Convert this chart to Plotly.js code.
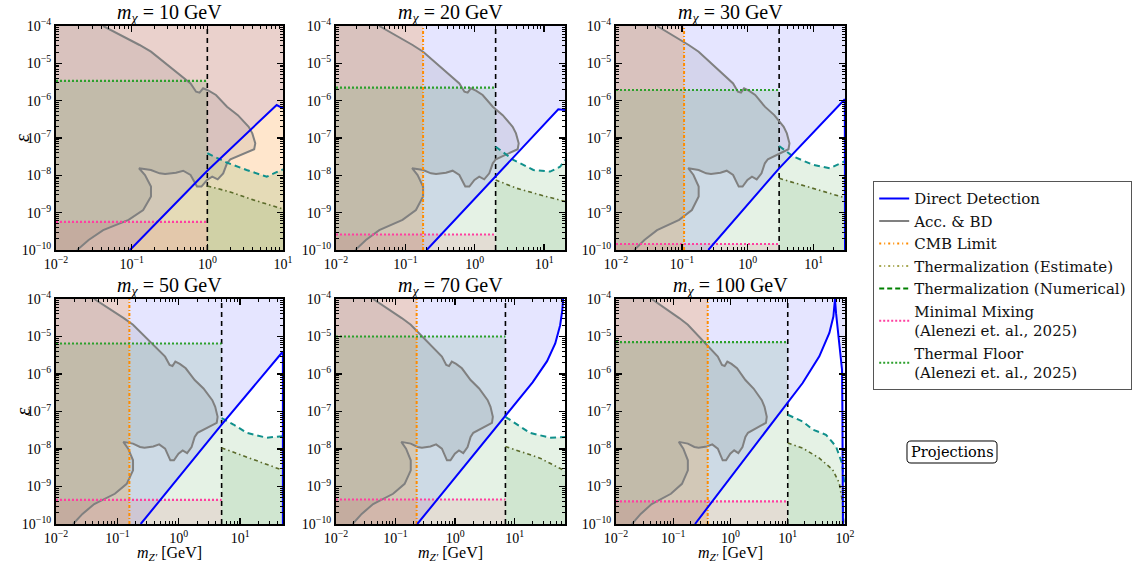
<!DOCTYPE html>
<html><head><meta charset="utf-8">
<script src="https://cdn.plot.ly/plotly-3.0.1.min.js"></script>
<style>html,body{margin:0;padding:0;background:#fff;}#chart{width:1137px;height:565px;}</style>
</head><body><div id="chart"></div>
<script>
// ---------------- DATA ----------------
const mChi = [10, 20, 30, 50, 70, 100];                 // GeV, panel titles and x upper limits
const zBoundary = [1, 2, 3, 5, 7, 10];                 // vertical dashed line (m_Z' = m_chi/10)
const cmbLimit = [10, 0.18, 0.108, 0.157, 0.226, 0.40]; // CMB limit on m_Z'
const thermalFloor = [3.4e-6, 2.23e-6, 1.93e-6, 6.5e-6, 1.0e-5, 7.1e-6];
const minimalMixing = [5.7e-10, 2.6e-10, 1.45e-10, 4.4e-10, 4.5e-10, 4.0e-10];

// Accelerator & beam dump contour (same in all panels)
const accX = [0.042, 0.073, 0.127, 0.18, 0.277, 0.43, 0.6, 0.71, 0.79, 0.88, 1.04, 1.3, 1.82, 2.53, 3.52, 3.93, 4.3, 4.16, 3.15, 2.02, 1.82, 1.62, 1.37, 1.16, 0.99, 0.836, 0.73, 0.67, 0.6, 0.48, 0.385, 0.277, 0.234, 0.18, 0.125, 0.15, 0.18, 0.18, 0.142, 0.091, 0.042, 0.027, 0.019];
const accY = [1e-4, 5.7e-5, 3.1e-5, 2.05e-5, 1e-5, 4.9e-6, 2.9e-6, 1.74e-6, 1.64e-6, 2.14e-6, 1.86e-6, 1.42e-6, 6.9e-7, 4.1e-7, 2.0e-7, 1.33e-7, 7.2e-8, 5.0e-8, 3.9e-8, 2.7e-8, 2.1e-8, 1.13e-8, 7.8e-9, 9.2e-9, 7.5e-9, 5.0e-9, 5.0e-9, 6.8e-9, 1.02e-8, 1.33e-8, 1.17e-8, 1.08e-8, 1.13e-8, 1.39e-8, 1.55e-8, 1.02e-8, 5.0e-9, 2.7e-9, 1.18e-9, 6.4e-10, 3.4e-10, 1.86e-10, 1e-10];

// Direct detection curves
const ddX = [
  [0.095, 1, 8.25, 10],
  [0.203, 2, 16, 20],
  [0.252, 3, 29.8, 30],
  [0.24, 5, 47.5, 49.8, 49.8],
  [0.232, 7, 20, 35, 48, 58, 63, 65],
  [0.24, 10, 18.2, 35.6, 53.3, 62.7, 66.8, 70, 74.5, 81.8, 88.7, 90, 91, 92]
];
const ddY = [
  [1e-10, 1.33e-8, 7.65e-7, 6.2e-7],
  [1e-10, 9.2e-9, 5.85e-7, 5.6e-7],
  [1e-10, 1.54e-8, 1.09e-6, 1e-10],
  [1e-10, 4.45e-8, 3.63e-6, 3.9e-6, 1e-10],
  [1e-10, 7.4e-8, 6e-7, 2.2e-6, 6.5e-6, 2e-5, 5e-5, 1e-4],
  [1e-10, 1.8e-7, 5.75e-7, 2.95e-6, 1.24e-5, 3.4e-5, 1e-4, 4e-5, 1.5e-5, 5.4e-6, 1.3e-6, 1e-7, 1e-9, 1e-10]
];

// Thermalization (numerical)
const thNumX = [
  [1, 1.8, 3.3, 6.1, 10],
  [2, 3.6, 7.0, 12.2, 17, 20],
  [3, 4.9, 9.9, 17.8, 30],
  [5, 7.8, 12.8, 27, 50],
  [7, 12.3, 18, 39, 70],
  [10, 18.2, 27.3, 46.5, 69.6, 88.7, 97.3]
];
const thNumY = [
  [3.9e-8, 2.2e-8, 1.39e-8, 9.2e-9, 1.45e-8],
  [5.85e-8, 2.6e-8, 1.39e-8, 1.26e-8, 1.7e-8, 2.6e-8],
  [6.1e-8, 3.2e-8, 1.9e-8, 1.55e-8, 2.4e-8],
  [6.7e-8, 4.5e-8, 2.7e-8, 2.0e-8, 2.2e-8],
  [7.2e-8, 3.9e-8, 2.7e-8, 2.0e-8, 2.1e-8],
  [8.2e-8, 5.4e-8, 3.3e-8, 2.4e-8, 1.17e-8, 4.2e-9, 1.24e-9]
];

// Thermalization (estimate)
const thEstX = [
  [1, 2.0, 4.05, 10],
  [2, 4.03, 8.7, 17, 20],
  [3, 7.9, 15.8, 30],
  [5, 9.95, 21, 50],
  [7, 12.3, 26.6, 70],
  [10, 18.2, 35.6, 61, 79.4, 91, 95]
];
const thEstY = [
  [5.2e-9, 3.6e-9, 2.2e-9, 1.25e-9],
  [7.5e-9, 4.5e-9, 3.0e-9, 2.2e-9, 2.0e-9],
  [8.3e-9, 5.0e-9, 3.4e-9, 2.5e-9],
  [1.07e-8, 7.1e-9, 4.7e-9, 2.7e-9],
  [1.17e-8, 8.7e-9, 5.7e-9, 2.6e-9],
  [1.45e-8, 1.06e-8, 5.7e-9, 2.8e-9, 1.24e-9, 3.6e-10, 1e-10]
];

const xTickVals = [0.01, 0.1, 1, 10, 100];
const xTickText = ['10<sup>−2</sup>', '10<sup>−1</sup>', '10<sup>0</sup>', '10<sup>1</sup>', '10<sup>2</sup>'];
const yTickVals = [1e-10, 1e-9, 1e-8, 1e-7, 1e-6, 1e-5, 1e-4];
const yTickText = ['10<sup>−10</sup>', '10<sup>−9</sup>', '10<sup>−8</sup>', '10<sup>−7</sup>', '10<sup>−6</sup>', '10<sup>−5</sup>', '10<sup>−4</sup>'];

// ---------------- LAYOUT HELPERS ----------------
const W = 1137, H = 565;
const colPx = [[56, 283], [336, 565], [616, 845]];
const rowPx = [[26, 250], [299, 524]];
const X0 = 0.01, Y0 = 1e-10, Y1 = 1e-4;
const FONT = 'Liberation Serif, Times New Roman, serif';
const LFONT = 'DejaVu Serif, Liberation Serif, serif';

const traces = [];
const layout = {
  width: W, height: H, autosize: false,
  margin: {l: 0, r: 0, t: 0, b: 0},
  paper_bgcolor: '#fff', plot_bgcolor: '#fff',
  font: {family: FONT, size: 13, color: '#000'},
  showlegend: true,
  legend: {
    x: 873 / W, y: 1 - 181 / H, xanchor: 'left', yanchor: 'top',
    bgcolor: '#fff', bordercolor: '#555', borderwidth: 1.2,
    font: {family: LFONT, size: 15, color: '#111'},
    itemwidth: 30, tracegroupgap: 2
  },
  annotations: [], shapes: []
};

function minorVals(lo, hi, kmin, kmax) {
  const v = [];
  for (let k = kmin; k <= kmax; k++) for (let m = 2; m <= 9; m++) {
    const t = m * Math.pow(10, k);
    if (t > lo && t < hi) v.push(t);
  }
  return v;
}

for (let i = 0; i < 6; i++) {
  const r = Math.floor(i / 3), c = i % 3;
  const s = i === 0 ? '' : String(i + 1);
  const xa = 'x' + s, ya = 'y' + s;
  const xmax = mChi[i];
  const axCommon = {
    type: 'log', showgrid: false, zeroline: false,
    showline: true, linecolor: '#000', linewidth: 2, mirror: 'allticks',
    ticks: 'inside', ticklen: 6, tickwidth: 1.3, tickcolor: '#000',
    tickfont: {family: FONT, size: 14, color: '#000'},
    tickmode: 'array'
  };
  layout['xaxis' + s] = Object.assign({}, axCommon, {
    domain: [colPx[c][0] / W, colPx[c][1] / W], anchor: ya,
    range: [Math.log10(X0), Math.log10(xmax)],
    tickvals: xTickVals.filter(v => v <= xmax * 1.0001), ticktext: xTickText.filter((t, j) => xTickVals[j] <= xmax * 1.0001),
    minor: {tickmode: 'array', tickvals: minorVals(X0, xmax, -2, 2), ticks: 'inside', ticklen: 3, tickwidth: 1, tickcolor: '#000', showgrid: false}
  });
  layout['yaxis' + s] = Object.assign({}, axCommon, {
    domain: [1 - rowPx[r][1] / H, 1 - rowPx[r][0] / H], anchor: xa,
    range: [-10, -4],
    tickvals: yTickVals, ticktext: yTickText,
    minor: {tickmode: 'array', tickvals: minorVals(Y0, Y1, -10, -5), ticks: 'inside', ticklen: 3, tickwidth: 1, tickcolor: '#000', showgrid: false}
  });

  const base = {xaxis: xa, yaxis: ya, hoverinfo: 'skip', showlegend: false, mode: 'lines'};
  const zb = zBoundary[i];
  const cmb = Math.min(cmbLimit[i], xmax);

  // --- fills ---
  traces.push(Object.assign({}, base, {
    x: [X0].concat(ddX[i], [xmax, X0]),
    y: [Y0].concat(ddY[i], [Y1, Y1]),
    fill: 'toself', fillcolor: 'rgba(0,0,255,0.10)', line: {width: 0}
  }));
  traces.push(Object.assign({}, base, {
    x: [X0, cmb, cmb, X0], y: [Y0, Y0, Y1, Y1],
    fill: 'toself', fillcolor: 'rgba(255,130,0,0.20)', line: {width: 0}
  }));
  traces.push(Object.assign({}, base, {
    x: accX.concat([X0, X0]), y: accY.concat([Y0, Y1]),
    fill: 'toself', fillcolor: 'rgba(70,70,70,0.10)', line: {width: 0}
  }));
  traces.push(Object.assign({}, base, {
    x: [X0, zb, zb, X0], y: [Y0, Y0, thermalFloor[i], thermalFloor[i]],
    fill: 'toself', fillcolor: 'rgba(0,128,0,0.10)', line: {width: 0}
  }));
  traces.push(Object.assign({}, base, {
    x: thNumX[i].concat([xmax, thNumX[i][0]]), y: thNumY[i].concat([Y0, Y0]),
    fill: 'toself', fillcolor: 'rgba(0,128,0,0.10)', line: {width: 0}
  }));
  traces.push(Object.assign({}, base, {
    x: thEstX[i].concat([xmax, thEstX[i][0]]), y: thEstY[i].concat([Y0, Y0]),
    fill: 'toself', fillcolor: 'rgba(0,110,0,0.09)', line: {width: 0}
  }));
  traces.push(Object.assign({}, base, {
    x: [X0, zb, zb, X0], y: [Y0, Y0, minimalMixing[i], minimalMixing[i]],
    fill: 'toself', fillcolor: 'rgba(215,40,70,0.10)', line: {width: 0}
  }));

  // --- lines ---
  traces.push(Object.assign({}, base, {x: [zb, zb], y: [Y0, Y1], line: {color: '#000', width: 1.6, dash: '5px,4px'}}));
  traces.push(Object.assign({}, base, {x: accX, y: accY, line: {color: '#808080', width: 2}}));
  if (cmbLimit[i] < xmax) traces.push(Object.assign({}, base, {x: [cmb, cmb], y: [Y0, Y1], line: {color: '#ff8c00', width: 2, dash: '3px,2px,1px,2px'}}));
  traces.push(Object.assign({}, base, {x: [X0, zb], y: [thermalFloor[i], thermalFloor[i]], line: {color: '#2ca02c', width: 2.2, dash: '2px,2px'}}));
  traces.push(Object.assign({}, base, {x: [X0, zb], y: [minimalMixing[i], minimalMixing[i]], line: {color: '#ff3fa0', width: 2.2, dash: '2px,2px'}}));
  traces.push(Object.assign({}, base, {x: thEstX[i], y: thEstY[i], line: {color: '#5b6b2a', width: 1.6, dash: '4px,3px,1.5px,3px'}}));
  traces.push(Object.assign({}, base, {x: thNumX[i], y: thNumY[i], line: {color: '#10908c', width: 2, dash: '6px,4px'}}));
  traces.push(Object.assign({}, base, {x: ddX[i], y: ddY[i], line: {color: '#0000ff', width: 2}}));

  const cx = (colPx[c][0] + colPx[c][1]) / 2;
  layout.annotations.push({
    xref: 'paper', yref: 'paper', x: cx / W, y: 1 - (rowPx[r][0] - 13) / H,
    text: '<i>m</i><sub><i>χ</i></sub> = ' + mChi[i] + ' GeV', showarrow: false,
    font: {family: FONT, size: 20, color: '#000'}, xanchor: 'center', yanchor: 'middle'
  });
  if (c === 0) {
    layout.annotations.push({
      xref: 'paper', yref: 'paper', x: 22 / W, y: 1 - ((rowPx[r][0] + rowPx[r][1]) / 2) / H,
      text: '<i>ε</i>', showarrow: false, textangle: -90,
      font: {family: FONT, size: 20, color: '#000'}, xanchor: 'center', yanchor: 'middle'
    });
  }
  if (r === 1) {
    layout.annotations.push({
      xref: 'paper', yref: 'paper', x: cx / W, y: 0,
      text: '<i>m</i><sub><i>Z′</i></sub> [GeV]', showarrow: false,
      font: {family: FONT, size: 16, color: '#000'}, xanchor: 'center', yanchor: 'bottom'
    });
  }
}

const legendItems = [
  {name: 'Direct Detection', line: {color: '#0000ff', width: 2}},
  {name: 'Acc. &amp; BD', line: {color: '#808080', width: 2}},
  {name: 'CMB Limit', line: {color: '#ff8c00', width: 2, dash: '2px,3px,1px,3px'}},
  {name: 'Thermalization (Estimate)', line: {color: '#8a8a1a', width: 1.6, dash: '2px,3px,1px,3px'}},
  {name: 'Thermalization (Numerical)', line: {color: '#008000', width: 2, dash: '5px,3px'}},
  {name: 'Minimal Mixing<br>(Alenezi et. al., 2025)', line: {color: '#ff3fa0', width: 2, dash: '2px,2px'}},
  {name: 'Thermal Floor<br>(Alenezi et. al., 2025)', line: {color: '#2ca02c', width: 2, dash: '2px,2px'}}
];
legendItems.forEach(it => traces.push({x: [null], y: [null], mode: 'lines', name: it.name, line: it.line, xaxis: 'x', yaxis: 'y', showlegend: true, hoverinfo: 'skip'}));

(function () {
  const x0 = 907, x1 = 997, y0 = 441, y1 = 463, rr = 4;
  const px = v => (v / W).toFixed(5), py = v => (1 - v / H).toFixed(5);
  const p = 'M' + px(x0 + rr) + ',' + py(y0) + ' L' + px(x1 - rr) + ',' + py(y0) +
    ' Q' + px(x1) + ',' + py(y0) + ' ' + px(x1) + ',' + py(y0 + rr) +
    ' L' + px(x1) + ',' + py(y1 - rr) + ' Q' + px(x1) + ',' + py(y1) + ' ' + px(x1 - rr) + ',' + py(y1) +
    ' L' + px(x0 + rr) + ',' + py(y1) + ' Q' + px(x0) + ',' + py(y1) + ' ' + px(x0) + ',' + py(y1 - rr) +
    ' L' + px(x0) + ',' + py(y0 + rr) + ' Q' + px(x0) + ',' + py(y0) + ' ' + px(x0 + rr) + ',' + py(y0) + ' Z';
  layout.shapes.push({type: 'path', xref: 'paper', yref: 'paper', path: p, line: {color: '#000', width: 1}, fillcolor: '#fff'});
  layout.annotations.push({xref: 'paper', yref: 'paper', x: 952 / W, y: 1 - 452 / H, text: 'Projections', showarrow: false,
    font: {family: LFONT, size: 14.5, color: '#000'}, xanchor: 'center', yanchor: 'middle'});
})();

Plotly.newPlot('chart', traces, layout, {staticPlot: true, displayModeBar: false});
</script>
</body></html>
